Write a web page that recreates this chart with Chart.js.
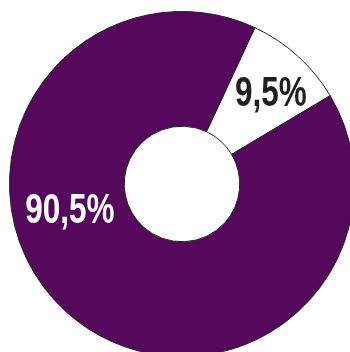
<!DOCTYPE html>
<html>
<head>
<meta charset="utf-8">
<script src="https://cdn.jsdelivr.net/npm/chart.js@4"></script>
<style>
  html, body { margin: 0; padding: 0; background: #fff; overflow: hidden; }
  #wrap { width: 364px; height: 368px; }
</style>
</head>
<body>
<div id="wrap"><canvas id="anteil" width="364" height="368"></canvas></div>
<script>
// shares in percent
const labels = ['klein', 'groß'];
const values = [9.5, 90.5];
const colors = ['#ffffff', '#55085b'];
const textColors = ['#231f20', '#ffffff'];
// where each label sits: angle clockwise from 12 o'clock, distance from centre
const labelAngle = [44, 257];
const labelDist = [128, 115];

function pct(v) {
  return v.toFixed(1).replace('.', ',') + '%';
}

// condensed labels: regular font squeezed horizontally
const sliceLabels = {
  id: 'sliceLabels',
  afterDatasetsDraw(chart) {
    const ctx = chart.ctx;
    const arcs = chart.getDatasetMeta(0).data;
    arcs.forEach((arc, i) => {
      const a = (labelAngle[i] - 90) * Math.PI / 180;
      const x = arc.x + Math.cos(a) * labelDist[i];
      const y = arc.y + Math.sin(a) * labelDist[i];
      ctx.save();
      ctx.translate(x, y);
      ctx.scale(0.75, 1);
      ctx.font = 'bold 42px "Liberation Sans", Arial, sans-serif';
      ctx.textAlign = 'center';
      ctx.textBaseline = 'middle';
      ctx.fillStyle = textColors[i];
      ctx.fillText(pct(values[i]), 0, 2);
      ctx.restore();
    });
  }
};

var anteil_chart = new Chart(document.getElementById('anteil'), {
  type: 'doughnut',
  data: {
    labels: labels,
    datasets: [{
      data: values,
      backgroundColor: colors,
      borderColor: '#231f20',
      borderWidth: 1
    }]
  },
  options: {
    responsive: false,
    animation: false,
    rotation: 25,
    cutout: '33.5%',
    layout: { padding: { left: 9, right: 9, top: 11, bottom: 11 } },
    plugins: {
      legend: { display: false },
      tooltip: { enabled: false }
    }
  },
  plugins: [sliceLabels]
});
</script>
</body>
</html>
